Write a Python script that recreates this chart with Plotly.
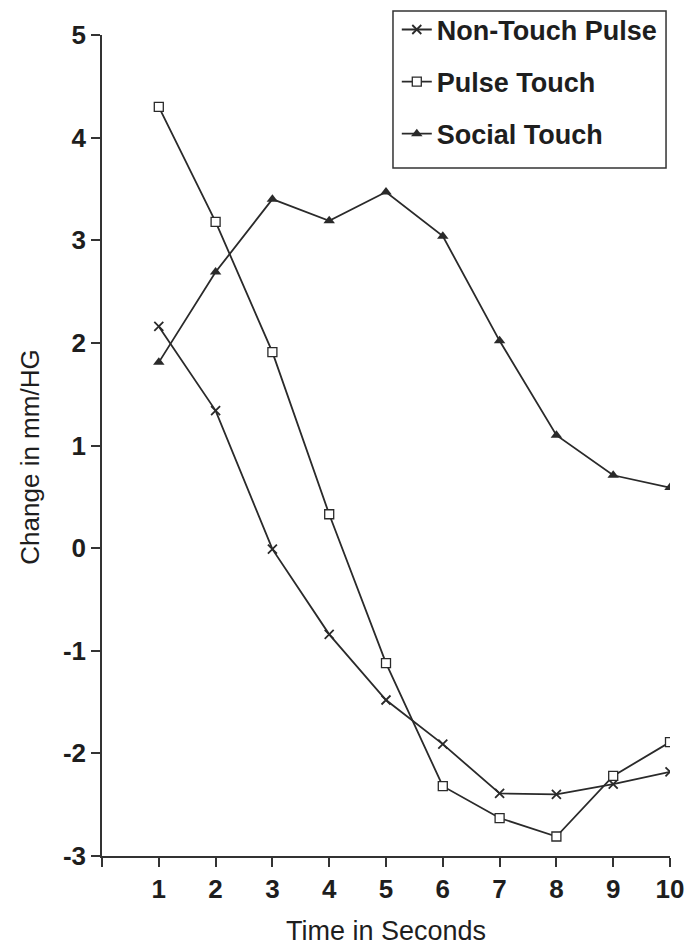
import plotly.graph_objects as go

seconds = [1, 2, 3, 4, 5, 6, 7, 8, 9, 10]
non_touch_pulse = [2.16, 1.34, -0.01, -0.84, -1.48, -1.91, -2.39, -2.40, -2.30, -2.18]
pulse_touch = [4.30, 3.18, 1.91, 0.33, -1.12, -2.32, -2.63, -2.81, -2.22, -1.89]
social_touch = [1.81, 2.69, 3.40, 3.19, 3.47, 3.04, 2.02, 1.10, 0.71, 0.59]

x_tickvals = [0, 1, 2, 3, 4, 5, 6, 7, 8, 9, 10]
x_ticktext = ["", "1", "2", "3", "4", "5", "6", "7", "8", "9", "10"]
y_tickvals = [-3, -2, -1, 0, 1, 2, 3, 4, 5]
y_ticktext = ["-3", "-2", "-1", "0", "1", "2", "3", "4", "5"]

LINE = "#2a2a2a"
TXT = "#1e1e1e"
FONT = "Liberation Sans"

fig = go.Figure()
fig.add_trace(go.Scatter(
    x=seconds, y=non_touch_pulse, name="Non-Touch Pulse", mode="lines+markers",
    legendgroup="a",
    line=dict(color=LINE, width=1.8),
    marker=dict(symbol="x-thin", size=9, line=dict(color=LINE, width=1.8), color=LINE),
))
fig.add_trace(go.Scatter(
    x=seconds, y=pulse_touch, name="Pulse Touch", mode="lines+markers",
    legendgroup="b",
    line=dict(color=LINE, width=1.8),
    marker=dict(symbol="square", size=9, color="white", line=dict(color=LINE, width=1.3)),
))
fig.add_trace(go.Scatter(
    x=seconds, y=social_touch, name="Social Touch", mode="lines+markers",
    legendgroup="c",
    line=dict(color=LINE, width=1.8),
    marker=dict(symbol="triangle-up", size=10, color=LINE, line=dict(color=LINE, width=0)),
))

fig.update_layout(
    width=686, height=938,
    margin=dict(l=94, r=24, t=27, b=90, autoexpand=False),
    paper_bgcolor="white", plot_bgcolor="white",
    font=dict(family=FONT, color=TXT, size=26),
    showlegend=True,
    legend=dict(
        x=0.519, y=1.036, xanchor="left", yanchor="top",
        borderwidth=0, bgcolor="rgba(0,0,0,0)",
        font=dict(family=FONT, size=27, color=TXT, weight="bold"),
        tracegroupgap=14, itemwidth=30,
    ),
    shapes=[dict(
        type="rect", xref="paper", yref="paper",
        x0=0.5123, x1=0.993, y0=0.838, y1=1.0292,
        line=dict(color="#333", width=1.5), fillcolor="rgba(0,0,0,0)", layer="below",
    )],
    annotations=[dict(
        text="Change in mm/HG", xref="paper", yref="y", x=-0.127, y=0.89,
        xanchor="center", yanchor="middle", textangle=-90, showarrow=False,
        font=dict(family=FONT, size=26, color=TXT),
    )],
    xaxis=dict(
        range=[0, 10], tickvals=x_tickvals, ticktext=x_ticktext,
        showline=True, linecolor="#333", linewidth=1.5,
        ticks="outside", ticklen=9, tickcolor="#333", tickwidth=1.5,
        showgrid=False, zeroline=False,
        tickfont=dict(family=FONT, size=26, weight="bold", color=TXT),
        title=dict(text="Time in Seconds", font=dict(family=FONT, size=27, color=TXT), standoff=26),
    ),
    yaxis=dict(
        range=[-3, 5], tickvals=y_tickvals, ticktext=y_ticktext,
        showline=True, linecolor="#333", linewidth=1.5,
        ticks="outside", ticklen=9, tickcolor="#333", tickwidth=1.5,
        showgrid=False, zeroline=False,
        tickfont=dict(family=FONT, size=26, weight="bold", color=TXT),
    ),
)

fig.write_html("out.html")
